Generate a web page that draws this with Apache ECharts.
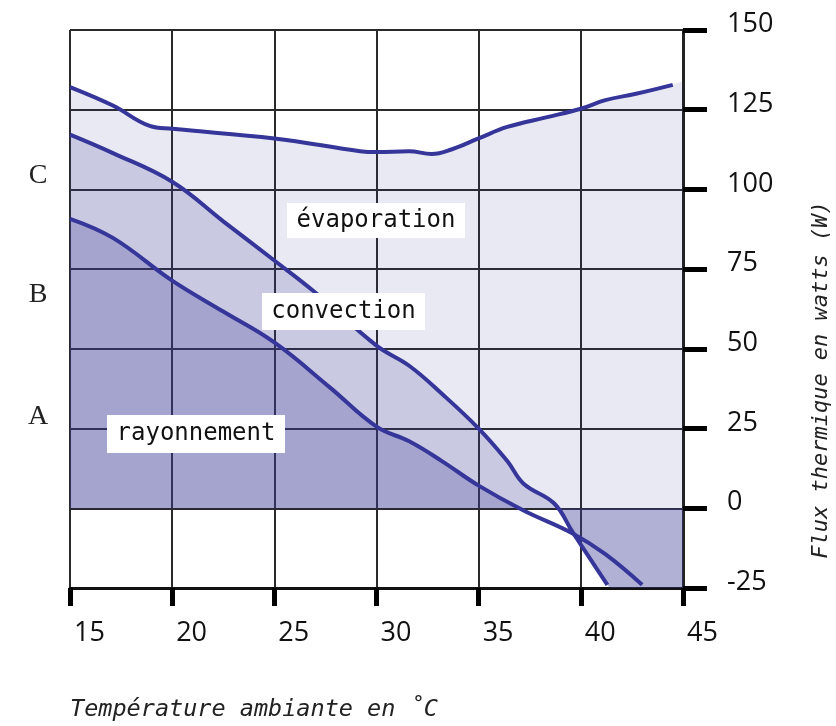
<!DOCTYPE html>
<html>
<head>
<meta charset="utf-8">
<script src="https://cdn.jsdelivr.net/npm/echarts@6/dist/echarts.min.js"></script>
<style>
html, body { margin: 0; padding: 0; background: #fff; }
#chart { width: 836px; height: 726px; }
</style>
</head>
<body>
<div id="chart"></div>
<script>
// axes
const xTicks = [15, 20, 25, 30, 35, 40, 45];
const yTicks = [-25, 0, 25, 50, 75, 100, 125, 150];

// courbes : [température °C, flux W]
const evaporation = [[15,132.1],[17.1,126.3],[18.9,119.9],[20,119],[25,116],[29.2,112],[30,111.7],[31.6,112],[32.7,111.1],[33.7,112.6],[35,116],[36.4,119.6],[38.3,122.6],[40,125.3],[41.2,128],[42.7,130],[44.5,132.8]];
const convection = [[15,117.2],[17.1,111.4],[20,102.4],[22.5,90],[25,77.7],[26.9,68.2],[30,51],[31.6,44.7],[33.2,35.9],[35,25],[36.4,14.8],[37.2,7.7],[38.7,1.5],[39.6,-7.5],[41.3,-24]];
const rayonnement = [[15,90.8],[17.1,84.8],[20,71.4],[22.5,61.7],[25,52],[27.7,38],[30,25.6],[31.6,21],[33.2,14.8],[35,7.1],[37.2,-0.7],[39.6,-7.9],[41.2,-14.4],[43,-24]];

// points où les courbes coupent 0, et bord droit de la zone évaporation
const rayZero = 37.0;
const convZero = 38.85;
const evapEdge = [45, 134];

const xMin = xTicks[0], xMax = xTicks[xTicks.length - 1];
const yMin = yTicks[0], yMax = yTicks[yTicks.length - 1];

// zones remplies
const evapFill = evaporation.concat([evapEdge]);
const convFill = convection.filter(p => p[1] >= 0).concat([[convZero, 0]]);
const rayFill = rayonnement.filter(p => p[0] < rayZero).concat([[rayZero, 0]]);
const negFill = [[convZero, 0]].concat(convection.filter(p => p[1] < 0))
  .concat([[41.5, yMin], [xMax, yMin]]);

const lineColor = '#36369a';
const smooth = 0.4;

function fillSeries(data, color) {
  return {
    type: 'line', data: data, smooth: smooth, symbol: 'none',
    lineStyle: { width: 0 }, areaStyle: { color: color, origin: 0, opacity: 1 },
    silent: true
  };
}
function curveSeries(name, data) {
  return {
    name: name, type: 'line', data: data, smooth: smooth, symbol: 'none',
    lineStyle: { color: lineColor, width: 4 }, z: 5
  };
}

const chart = echarts.init(document.getElementById('chart'));
const mono = 'DejaVu Sans Mono';

function boxLabel(text, x, y, w, h) {
  return {
    type: 'group',
    children: [
      { type: 'rect', z: 100, shape: { x: x, y: y, width: w, height: h }, style: { fill: '#fff' } },
      { type: 'text', z: 101, x: x + w / 2, y: y + h / 2,
        style: { text: text, font: '24px "' + mono + '"', fill: '#111',
          align: 'center', verticalAlign: 'middle', textAlign: 'center', textVerticalAlign: 'middle' } }
    ]
  };
}
function sideLetter(text, y) {
  return { type: 'text', x: 38, y: y, z: 100,
    style: { text: text, font: '28px "Liberation Serif"', fill: '#222',
      align: 'center', verticalAlign: 'middle', textAlign: 'center', textVerticalAlign: 'middle' } };
}

chart.setOption({
  animation: false,
  backgroundColor: '#fff',
  grid: { left: 70, right: 153, top: 30, bottom: 138 },
  xAxis: {
    type: 'value', min: xMin, max: xMax, interval: 5,
    axisLine: { show: true, onZero: false, lineStyle: { color: '#111', width: 3 } },
    axisTick: { show: true, length: 18, lineStyle: { color: '#000', width: 5 } },
    axisLabel: { fontFamily: 'Open Sans', fontSize: 27, color: '#111', margin: 32, align: 'left', padding: [0, 0, 0, 4] },
    splitLine: { show: true, lineStyle: { color: '#2a2a2a', width: 2 } }
  },
  yAxis: {
    type: 'value', position: 'right', min: yMin, max: yMax, interval: 25,
    axisLine: { show: true, lineStyle: { color: '#222', width: 3 } },
    axisTick: { show: true, length: 24, lineStyle: { color: '#000', width: 5 } },
    axisLabel: { fontFamily: 'Open Sans', fontSize: 27, color: '#111', margin: 44, align: 'left',
      verticalAlign: 'bottom', lineHeight: 11 },
    splitLine: { show: true, lineStyle: { color: '#2a2a2a', width: 2 } }
  },
  series: [
    fillSeries(evapFill, 'rgba(60,60,150,0.113)'),
    fillSeries(convFill, 'rgba(60,60,150,0.185)'),
    fillSeries(rayFill, 'rgba(60,60,150,0.255)'),
    fillSeries(negFill, 'rgba(60,60,150,0.40)'),
    curveSeries('évaporation', evaporation),
    curveSeries('convection', convection),
    curveSeries('rayonnement', rayonnement)
  ],
  graphic: [
    boxLabel('évaporation', 287, 203, 178, 35),
    boxLabel('convection', 262, 293, 163, 37),
    boxLabel('rayonnement', 107, 415, 178, 38),
    sideLetter('C', 176),
    sideLetter('B', 295),
    sideLetter('A', 417),
    { type: 'text', x: 70, y: 710, z: 100,
      style: { text: 'Température ambiante en ˚C', font: 'italic 23.5px "' + mono + '"', fill: '#222',
        align: 'left', verticalAlign: 'middle', textAlign: 'left', textVerticalAlign: 'middle' } },
    { type: 'text', x: 821, y: 380, rotation: Math.PI / 2, z: 100,
      style: { text: 'Flux thermique en watts (W)', font: 'italic 22px "' + mono + '"', fill: '#222',
        align: 'center', verticalAlign: 'middle', textAlign: 'center', textVerticalAlign: 'middle' } }
  ]
});
</script>
</body>
</html>
